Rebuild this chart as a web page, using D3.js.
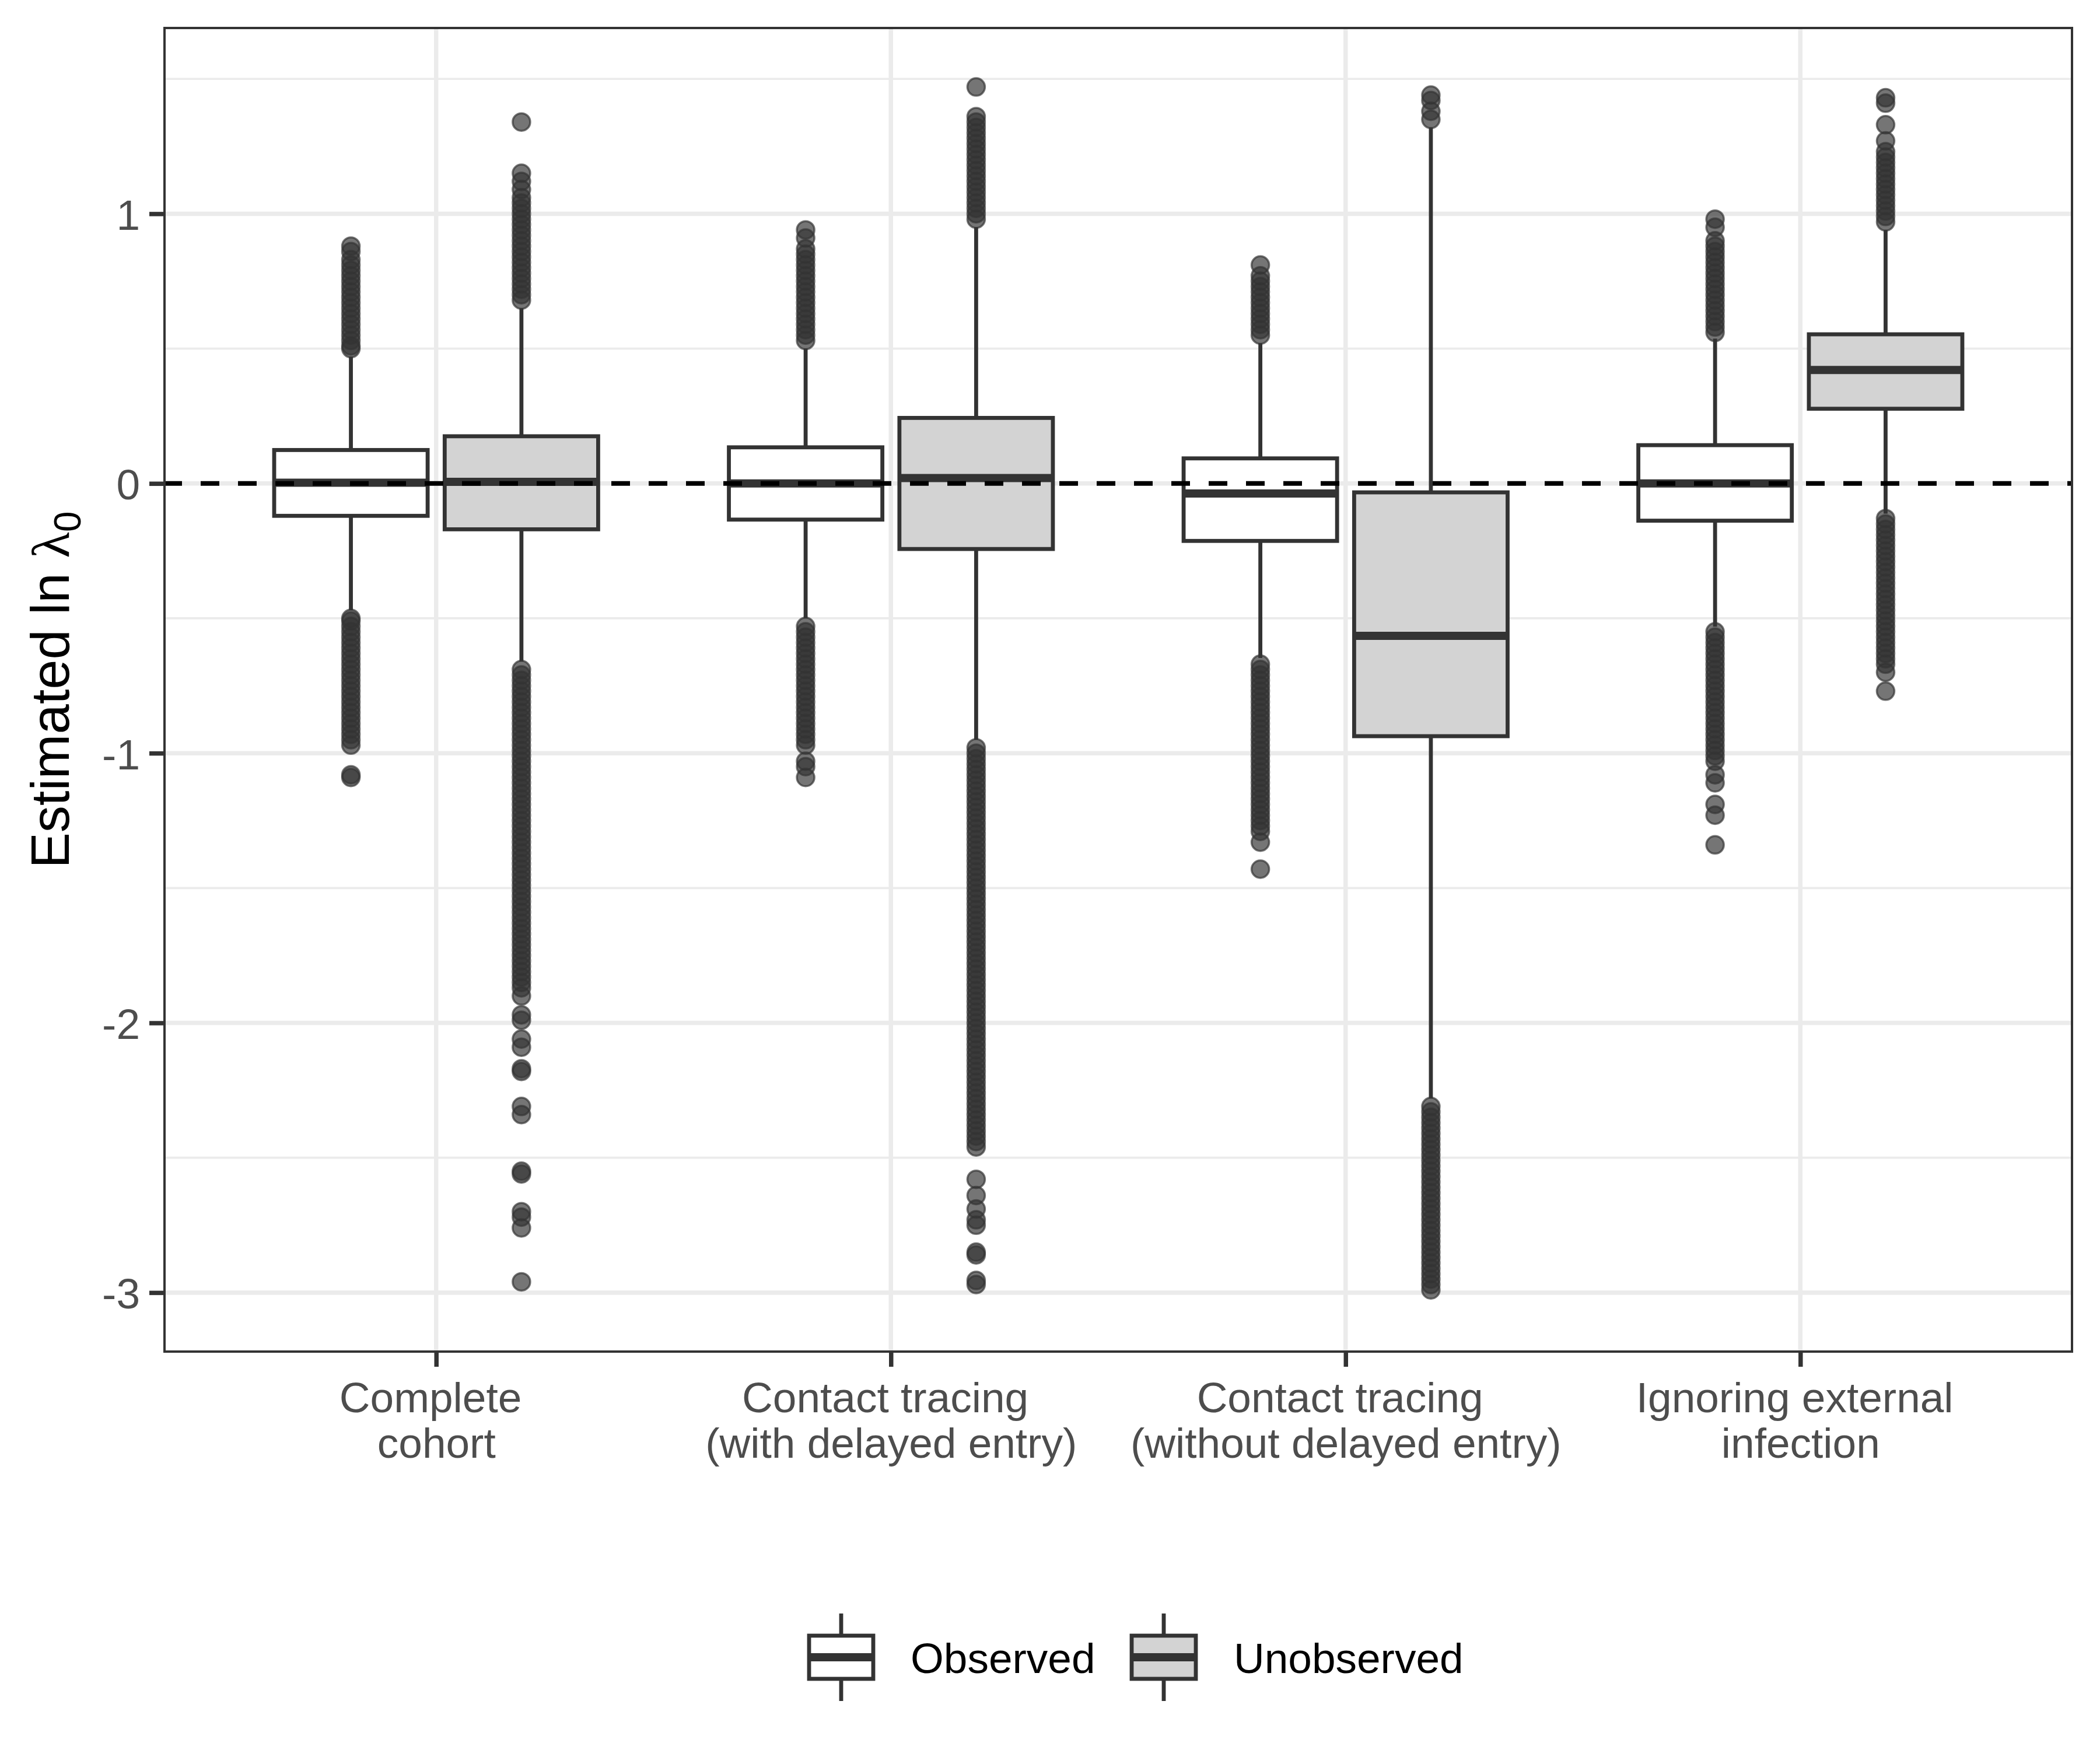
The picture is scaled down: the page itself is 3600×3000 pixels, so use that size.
<!DOCTYPE html>
<html><head><meta charset="utf-8">
<script src="https://cdn.jsdelivr.net/npm/d3@7"></script>
<style>body{margin:0;background:#fff} text{white-space:pre}</style>
</head><body>
<svg id="chart" width="3600" height="3000"></svg>
<script>
// ---------------- data ----------------
const categories = ["Complete cohort", "Contact tracing (with delayed entry)", "Contact tracing (without delayed entry)", "Ignoring external infection"];
const categoryLines = [["Complete ", "cohort"], ["Contact tracing ", "(with delayed entry)"], ["Contact tracing ", "(without delayed entry)"], ["Ignoring external ", "infection"]];
const groups = ["Observed", "Unobserved"];
const yTicks = [-3, -2, -1, 0, 1];
const yMinorTicks = [-2.5, -1.5, -0.5, 0.5, 1.5];

const obsQ1 = [-0.120, -0.134, -0.213, -0.138];
const obsMedian = [0.003, 0.0, -0.037, 0.0];
const obsQ3 = [0.124, 0.134, 0.093, 0.142];
const obsWhiskerLow = [-0.47, -0.50, -0.647, -0.531];
const obsWhiskerHigh = [0.47, 0.50, 0.52, 0.537];

const unobsQ1 = [-0.170, -0.243, -0.937, 0.277];
const unobsMedian = [0.006, 0.02, -0.565, 0.421];
const unobsQ3 = [0.175, 0.243, -0.033, 0.553];
const unobsWhiskerLow = [-0.66, -0.95, -2.28, -0.112];
const unobsWhiskerHigh = [0.65, 0.95, 1.32, 0.94];

const obsOutliers = [
  [0.88, 0.86, 0.83, 0.81, 0.79, 0.77, 0.75, 0.73, 0.71, 0.69, 0.67, 0.65, 0.63, 0.61, 0.59, 0.57, 0.55, 0.53, 0.51, 0.50,
   -0.50, -0.51, -0.53, -0.55, -0.57, -0.59, -0.61, -0.63, -0.65, -0.67, -0.69, -0.71, -0.73, -0.75, -0.77, -0.79, -0.81, -0.83, -0.85, -0.87, -0.89, -0.91, -0.93, -0.95, -0.97, -1.08, -1.09],
  [0.94, 0.91, 0.87, 0.85, 0.83, 0.81, 0.79, 0.77, 0.75, 0.73, 0.71, 0.69, 0.67, 0.65, 0.63, 0.61, 0.59, 0.57, 0.55, 0.53,
   -0.53, -0.55, -0.57, -0.59, -0.61, -0.63, -0.65, -0.67, -0.69, -0.71, -0.73, -0.75, -0.77, -0.79, -0.81, -0.83, -0.85, -0.87, -0.89, -0.91, -0.93, -0.95, -0.97, -1.03, -1.05, -1.09],
  [0.81, 0.77, 0.75, 0.73, 0.71, 0.69, 0.67, 0.65, 0.63, 0.61, 0.59, 0.57, 0.55,
   -0.67, -0.69, -0.71, -0.73, -0.75, -0.77, -0.79, -0.81, -0.83, -0.85, -0.87, -0.89, -0.91, -0.93, -0.95, -0.97, -0.99, -1.01, -1.03, -1.05, -1.07, -1.09, -1.11, -1.13, -1.15, -1.17, -1.19, -1.21, -1.23, -1.25, -1.27, -1.29, -1.33, -1.43],
  [0.98, 0.95, 0.90, 0.88, 0.86, 0.84, 0.82, 0.80, 0.78, 0.76, 0.74, 0.72, 0.70, 0.68, 0.66, 0.64, 0.62, 0.60, 0.58, 0.56,
   -0.55, -0.57, -0.59, -0.61, -0.63, -0.65, -0.67, -0.69, -0.71, -0.73, -0.75, -0.77, -0.79, -0.81, -0.83, -0.85, -0.87, -0.89, -0.91, -0.93, -0.95, -0.97, -0.99, -1.01, -1.03, -1.08, -1.11, -1.19, -1.23, -1.34]
];

const unobsOutliers = [
  [1.34, 1.15, 1.12, 1.09, 1.06, 1.04, 1.02, 1.00, 0.98, 0.96, 0.94, 0.92, 0.90, 0.88, 0.86, 0.84, 0.82, 0.80, 0.78, 0.76, 0.74, 0.72, 0.70, 0.68,
   -0.69, -0.71, -0.73, -0.75, -0.77, -0.79, -0.81, -0.83, -0.85, -0.87, -0.89, -0.91, -0.93, -0.95, -0.97, -0.99, -1.01, -1.03, -1.05, -1.07, -1.09, -1.11, -1.13, -1.15, -1.17, -1.19, -1.21, -1.23, -1.25, -1.27, -1.29, -1.31, -1.33, -1.35, -1.37, -1.39, -1.41, -1.43, -1.45, -1.47, -1.49, -1.51, -1.53, -1.55, -1.57, -1.59, -1.61, -1.63, -1.65, -1.67, -1.69, -1.71, -1.73, -1.75, -1.77, -1.79, -1.81, -1.83, -1.85, -1.87,
   -1.90, -1.97, -1.99, -2.06, -2.09, -2.17, -2.18, -2.31, -2.34, -2.55, -2.56, -2.70, -2.72, -2.76, -2.96],
  [1.47, 1.36, 1.34, 1.32, 1.30, 1.28, 1.26, 1.24, 1.22, 1.20, 1.18, 1.16, 1.14, 1.12, 1.10, 1.08, 1.06, 1.04, 1.02, 1.00, 0.98,
   -0.98, -1.00, -1.02, -1.04, -1.06, -1.08, -1.10, -1.12, -1.14, -1.16, -1.18, -1.20, -1.22, -1.24, -1.26, -1.28, -1.30, -1.32, -1.34, -1.36, -1.38, -1.40, -1.42, -1.44, -1.46, -1.48, -1.50, -1.52, -1.54, -1.56, -1.58, -1.60, -1.62, -1.64, -1.66, -1.68, -1.70, -1.72, -1.74, -1.76, -1.78, -1.80, -1.82, -1.84, -1.86, -1.88, -1.90, -1.92, -1.94, -1.96, -1.98, -2.00, -2.02, -2.04, -2.06, -2.08, -2.10, -2.12, -2.14, -2.16, -2.18, -2.20, -2.22, -2.24, -2.26, -2.28, -2.30, -2.32, -2.34, -2.36, -2.38, -2.40, -2.42, -2.44, -2.46,
   -2.58, -2.64, -2.69, -2.73, -2.75, -2.85, -2.86, -2.955, -2.97],
  [1.44, 1.42, 1.38, 1.35,
   -2.31, -2.33, -2.35, -2.37, -2.39, -2.41, -2.43, -2.45, -2.47, -2.49, -2.51, -2.53, -2.55, -2.57, -2.59, -2.61, -2.63, -2.65, -2.67, -2.69, -2.71, -2.73, -2.75, -2.77, -2.79, -2.81, -2.83, -2.85, -2.87, -2.89, -2.91, -2.93, -2.95, -2.97, -2.99],
  [1.43, 1.41, 1.33, 1.27, 1.23, 1.21, 1.19, 1.17, 1.15, 1.13, 1.11, 1.09, 1.07, 1.05, 1.03, 1.01, 0.99, 0.97,
   -0.13, -0.15, -0.17, -0.19, -0.21, -0.23, -0.25, -0.27, -0.29, -0.31, -0.33, -0.35, -0.37, -0.39, -0.41, -0.43, -0.45, -0.47, -0.49, -0.51, -0.53, -0.55, -0.57, -0.59, -0.61, -0.63, -0.65, -0.67, -0.70, -0.77]
];

// ---------------- layout / style ----------------
const W = 3600, H = 3000;
const panel = { left: 280, right: 3554, top: 46, bottom: 2319 };
const FONT = "'Liberation Sans', Arial, Helvetica, sans-serif";
const fills = { Observed: "#FFFFFF", Unobserved: "#D3D3D3" };
const LINE = "#333333";
const lw = 6.8, medLw = 14, gridMajor = 7.5, gridMinor = 3.7;

const svg = d3.select("#chart");
svg.append("rect").attr("width", W).attr("height", H).attr("fill", "#fff");

const x = d3.scalePoint().domain(categories).range([panel.left, panel.right]).padding(0.6);
const xSub = d3.scaleBand().domain(groups).range([-0.375 * x.step(), 0.375 * x.step()]);
const boxW = xSub.bandwidth() * 0.9;
const y = d3.scaleLinear().domain([-3.223, 1.693]).range([panel.bottom, panel.top]);

svg.append("defs").append("clipPath").attr("id", "pclip").append("rect")
  .attr("x", panel.left).attr("y", panel.top)
  .attr("width", panel.right - panel.left).attr("height", panel.bottom - panel.top);

const g = svg.append("g").attr("clip-path", "url(#pclip)");

// grid
g.selectAll(".minor").data(yMinorTicks).join("line")
  .attr("x1", panel.left).attr("x2", panel.right)
  .attr("y1", d => y(d)).attr("y2", d => y(d))
  .attr("stroke", "#EBEBEB").attr("stroke-width", gridMinor);
g.selectAll(".majorH").data(yTicks).join("line")
  .attr("x1", panel.left).attr("x2", panel.right)
  .attr("y1", d => y(d)).attr("y2", d => y(d))
  .attr("stroke", "#EBEBEB").attr("stroke-width", gridMajor);
g.selectAll(".majorV").data(categories).join("line")
  .attr("x1", d => x(d)).attr("x2", d => x(d))
  .attr("y1", panel.top).attr("y2", panel.bottom)
  .attr("stroke", "#EBEBEB").attr("stroke-width", gridMajor);

// box statistics
const stats = [];
groups.forEach((grp, gi) => {
  categories.forEach((cat, i) => {
    stats.push({
      cat, grp,
      q1: gi ? unobsQ1[i] : obsQ1[i],
      med: gi ? unobsMedian[i] : obsMedian[i],
      q3: gi ? unobsQ3[i] : obsQ3[i],
      lo: gi ? unobsWhiskerLow[i] : obsWhiskerLow[i],
      hi: gi ? unobsWhiskerHigh[i] : obsWhiskerHigh[i],
      out: gi ? unobsOutliers[i] : obsOutliers[i]
    });
  });
});
const cx = d => x(d.cat) + xSub(d.grp) + xSub.bandwidth() / 2;

const boxes = g.selectAll(".box").data(stats).join("g").attr("class", "box");

// outliers
boxes.each(function (d) {
  d3.select(this).selectAll("circle").data(d.out).join("circle")
    .attr("cx", cx(d)).attr("cy", v => y(v)).attr("r", 15)
    .attr("fill", "rgba(51,51,51,0.68)")
    .attr("stroke", "rgba(51,51,51,0.68)").attr("stroke-width", 3.5);
});
// whiskers
boxes.append("line").attr("x1", cx).attr("x2", cx)
  .attr("y1", d => y(d.q3)).attr("y2", d => y(d.hi))
  .attr("stroke", LINE).attr("stroke-width", lw);
boxes.append("line").attr("x1", cx).attr("x2", cx)
  .attr("y1", d => y(d.q1)).attr("y2", d => y(d.lo))
  .attr("stroke", LINE).attr("stroke-width", lw);
// box
boxes.append("rect")
  .attr("x", d => cx(d) - boxW / 2).attr("width", boxW)
  .attr("y", d => y(d.q3)).attr("height", d => y(d.q1) - y(d.q3))
  .attr("fill", d => fills[d.grp]).attr("stroke", LINE).attr("stroke-width", lw);
// median
boxes.append("line")
  .attr("x1", d => cx(d) - boxW / 2).attr("x2", d => cx(d) + boxW / 2)
  .attr("y1", d => y(d.med)).attr("y2", d => y(d.med))
  .attr("stroke", LINE).attr("stroke-width", medLw);

// dashed reference line
g.append("line").attr("x1", panel.left).attr("x2", panel.right)
  .attr("y1", y(0)).attr("y2", y(0))
  .attr("stroke", "#000").attr("stroke-width", 8).attr("stroke-dasharray", "32,32");

// panel border (half clipped as in ggplot)
g.append("rect").attr("x", panel.left).attr("y", panel.top)
  .attr("width", panel.right - panel.left).attr("height", panel.bottom - panel.top)
  .attr("fill", "none").attr("stroke", LINE).attr("stroke-width", 8);

// y axis
const yAxis = svg.append("g").attr("transform", `translate(${panel.left},0)`)
  .call(d3.axisLeft(y).tickValues(yTicks).tickSize(24).tickPadding(16).tickFormat(d => String(d)));
yAxis.attr("font-family", FONT).attr("font-size", 73);
yAxis.select(".domain").remove();
yAxis.selectAll(".tick line").attr("stroke", LINE).attr("stroke-width", 7.5);
yAxis.selectAll(".tick text").attr("fill", "#4D4D4D").attr("dy", null).attr("y", 27);

// x axis
const xAxis = svg.append("g").attr("transform", `translate(0,${panel.bottom})`)
  .call(d3.axisBottom(x).tickSize(24).tickFormat(""));
xAxis.attr("font-family", FONT).attr("font-size", 73);
xAxis.select(".domain").remove();
xAxis.selectAll(".tick line").attr("stroke", LINE).attr("stroke-width", 7.5);
xAxis.selectAll(".tick").each(function (d, i) {
  const t = d3.select(this).select("text").attr("fill", "#4D4D4D").attr("dy", null).attr("y", null).text(null);
  categoryLines[i].forEach((ln, k) => {
    t.append("tspan").attr("x", 0).attr("y", 102 + k * 78).text(ln);
  });
});

// y title
const title = svg.append("text")
  .attr("transform", `translate(118,${(panel.top + panel.bottom) / 2}) rotate(-90)`)
  .attr("text-anchor", "middle").attr("font-family", FONT).attr("font-size", 92).attr("fill", "#000");
title.append("tspan").text("Estimated ln ");
title.append("tspan").attr("font-family", "'Liberation Serif', 'DejaVu Serif', serif").text("λ");
title.append("tspan").attr("font-size", 64).attr("dy", 20).text("0");

// legend
const legendKeys = [{ grp: "Observed", kx: 1442, tx: 1561 }, { grp: "Unobserved", kx: 1995, tx: 2115 }];
const legendCY = 2841;
const lg = svg.append("g").selectAll("g").data(legendKeys).join("g");
lg.append("line").attr("x1", d => d.kx).attr("x2", d => d.kx)
  .attr("y1", legendCY - 75).attr("y2", legendCY + 75)
  .attr("stroke", LINE).attr("stroke-width", lw);
lg.append("rect").attr("x", d => d.kx - 55).attr("width", 110)
  .attr("y", legendCY - 37).attr("height", 74)
  .attr("fill", d => fills[d.grp]).attr("stroke", LINE).attr("stroke-width", lw);
lg.append("line").attr("x1", d => d.kx - 55).attr("x2", d => d.kx + 55)
  .attr("y1", legendCY).attr("y2", legendCY)
  .attr("stroke", LINE).attr("stroke-width", medLw);
lg.append("text").attr("x", d => d.tx).attr("y", legendCY + 27)
  .attr("font-family", FONT).attr("font-size", 73).attr("fill", "#000")
  .text(d => d.grp);
</script>
</body></html>
